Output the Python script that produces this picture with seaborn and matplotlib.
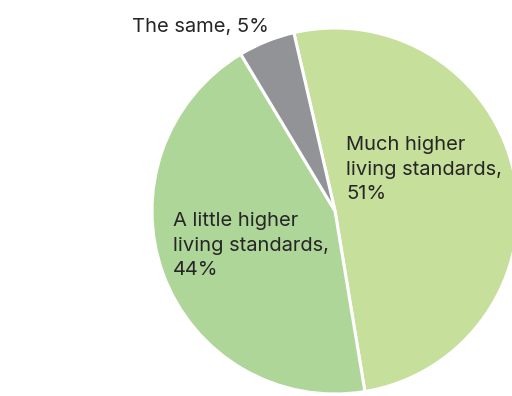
import matplotlib
matplotlib.use("Agg")
import matplotlib.pyplot as plt
import seaborn as sns

# Survey answers and shares (%)
categories = ["Much higher\nliving standards", "A little higher\nliving standards", "The same"]
shares = [51, 44, 5]
colors = ["#C6DF9B", "#AFD699", "#929397"]

sns.set_theme(style="white")
plt.rcParams["font.family"] = ["Inter", "DejaVu Sans"]

W, H = 512, 396
fig = plt.figure(figsize=(W / 100, H / 100), dpi=100)
ax = fig.add_axes([0, 0, 1, 1])
ax.set_xlim(0, W)
ax.set_ylim(0, H)
ax.set_aspect("equal")
ax.axis("off")

cx, cy, r = 335, H - 211, 183
ax.pie(shares, colors=colors, center=(cx, cy), radius=r,
       startangle=103, counterclock=False,
       wedgeprops=dict(edgecolor="white", linewidth=2.2))
ax.set_xlim(0, W)
ax.set_ylim(0, H)

txt = dict(fontsize=14.5, color="#262626", linespacing=1.45, ha="left")
# baseline of the last line of each label
label_pos = [(346, 199), (173, 275), (132, 32)]
for cat, val, (x, y) in zip(categories, shares, label_pos):
    if "\n" in cat:
        s = f"{cat},\n{val}%"
    else:
        s = f"{cat}, {val}%"
    ax.text(x, H - y, s, va="baseline", **txt)

fig.savefig("out.png", dpi=100)
